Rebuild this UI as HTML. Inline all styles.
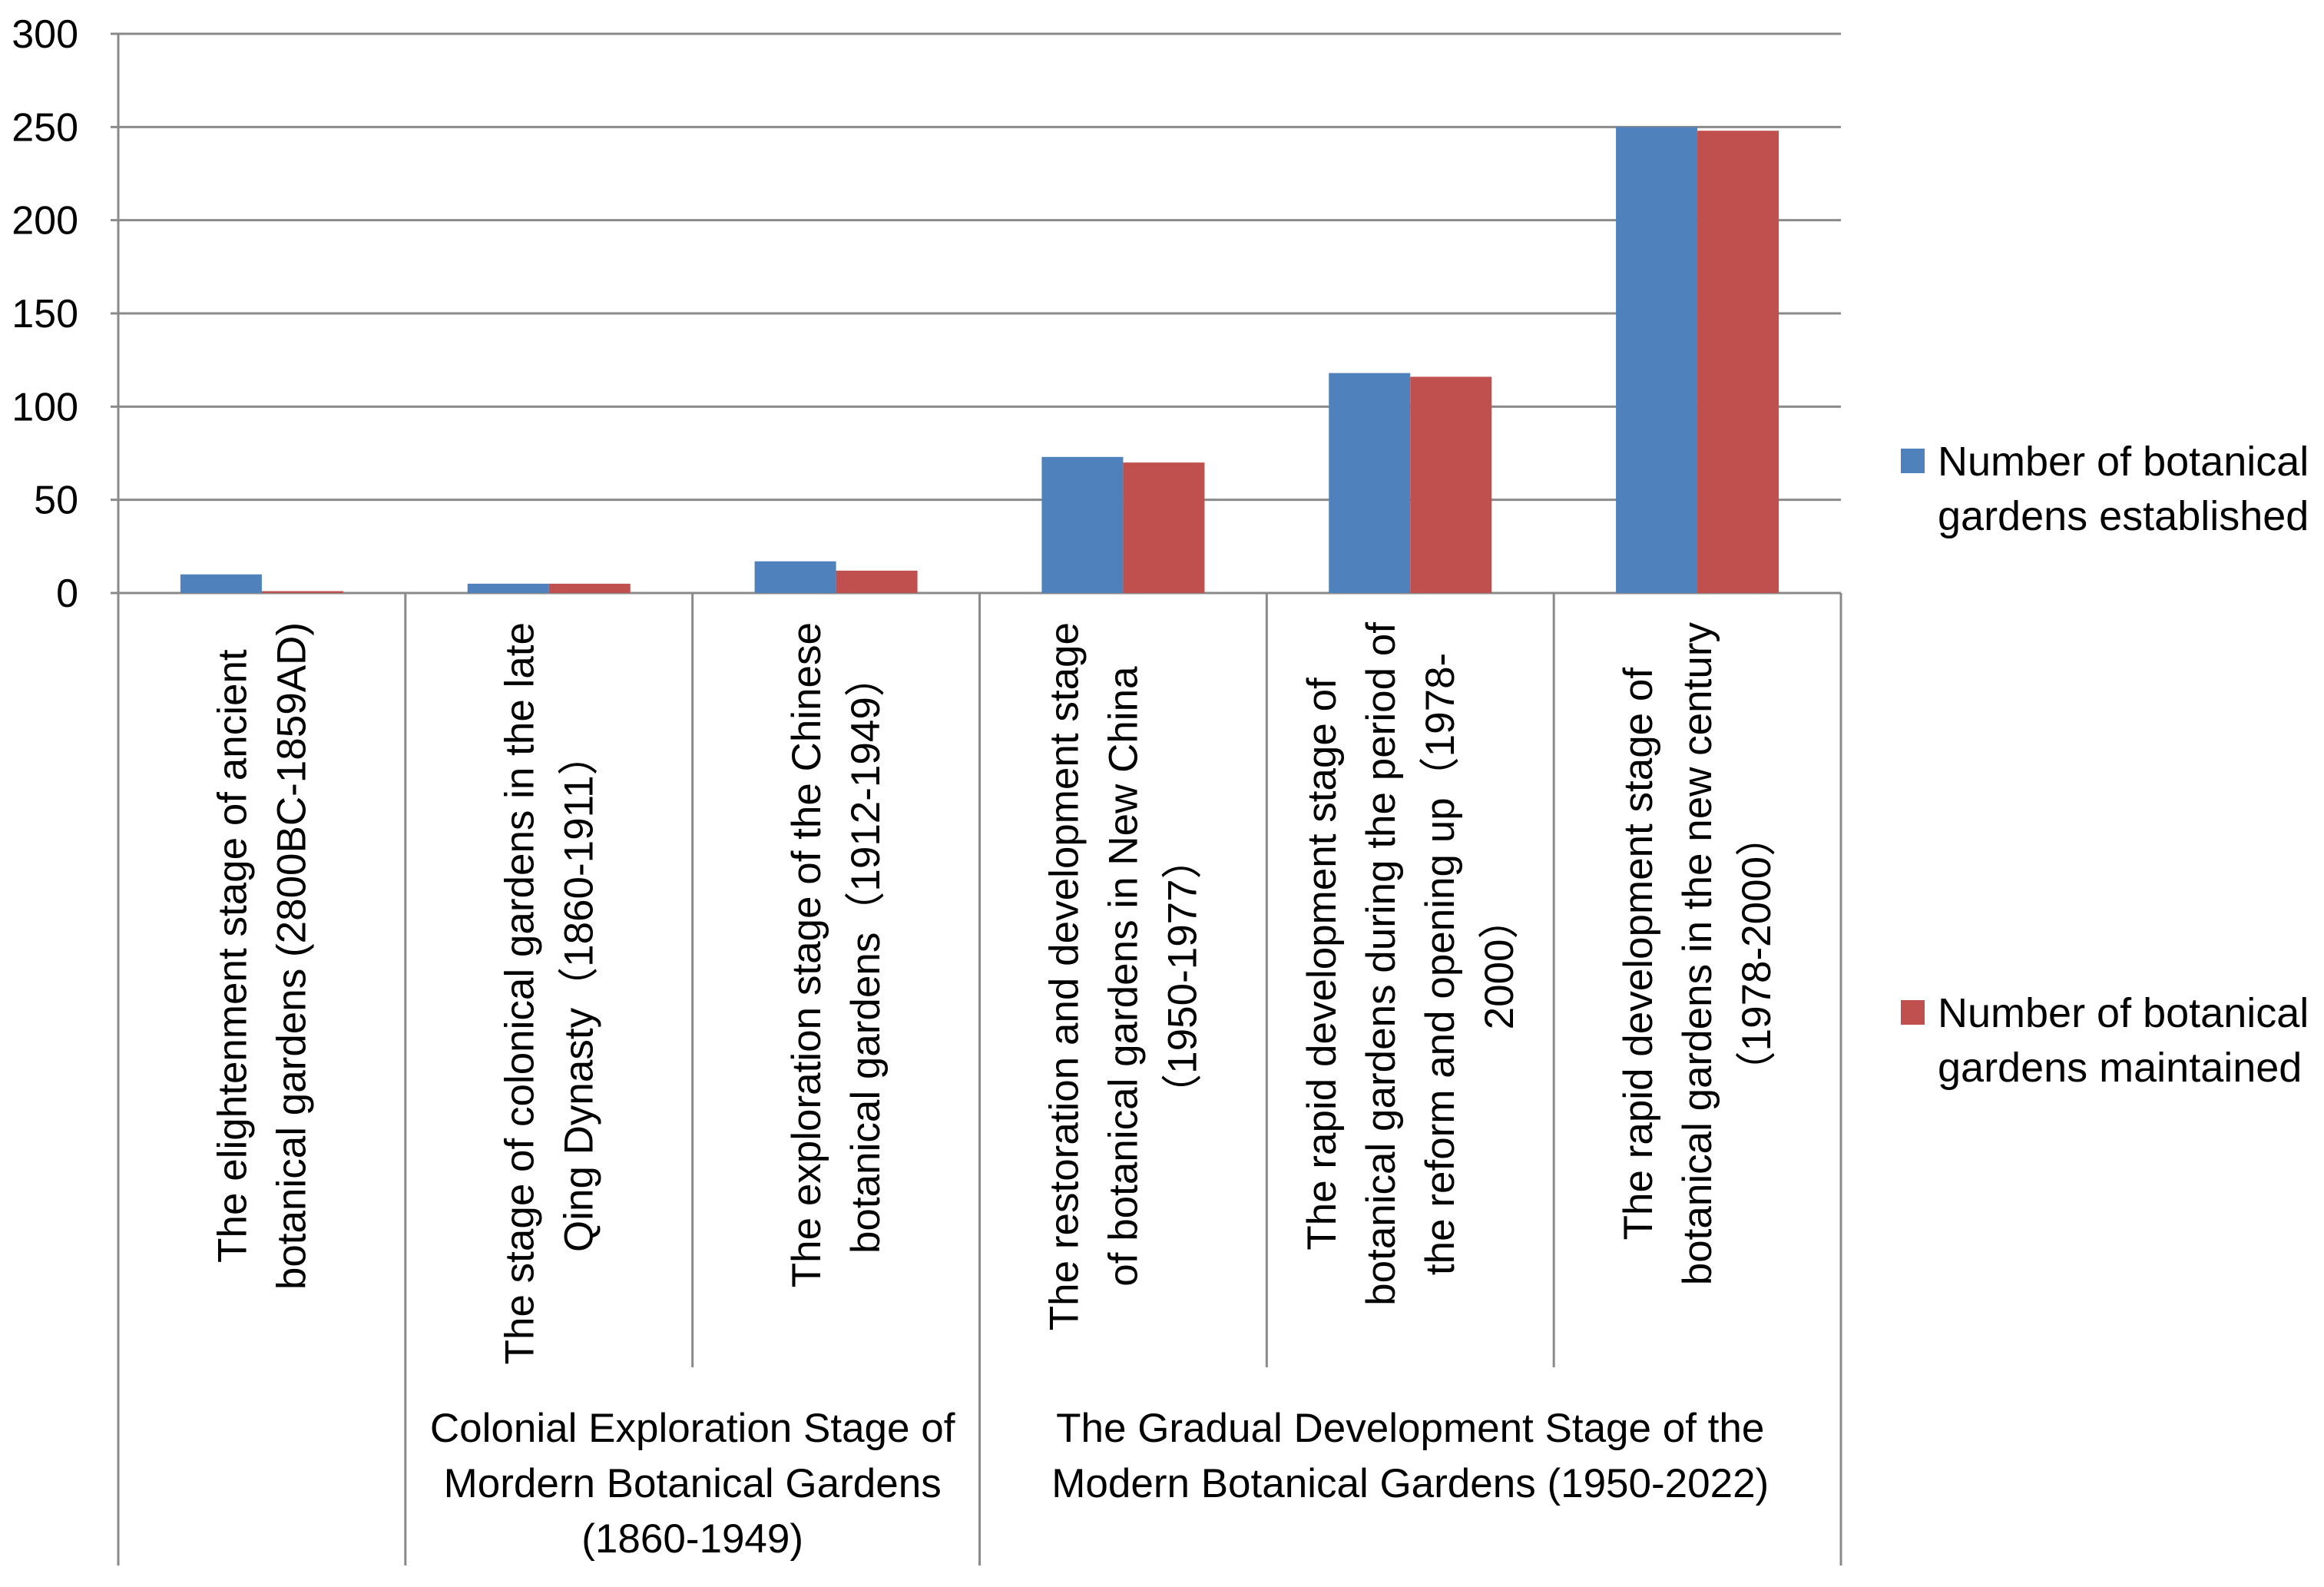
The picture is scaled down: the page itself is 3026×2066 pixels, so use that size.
<!DOCTYPE html>
<html><head><meta charset="utf-8"><style>
html,body{margin:0;padding:0;background:#fff;}
svg{display:block;}
text{font-family:"Liberation Sans",sans-serif;fill:#000;}
</style></head><body>
<svg id="chart" width="3026" height="2066" viewBox="0 0 3026 2066">
<g id="grid"></g>
<g id="bars"></g>
<g id="axes"></g>
<g id="ylabels"></g>
<g id="xlabels"></g>
<g id="legend"></g>
</svg>
<script>
const categoryLines = [
  ["The elightenment stage of ancient","botanical gardens (2800BC-1859AD)"],
  ["The stage of colonical gardens in the late","Qing Dynasty（1860-1911）"],
  ["The exploration stage of the Chinese","botanical gardens（1912-1949）"],
  ["The restoration and development stage","of botanical gardens in New China","（1950-1977）"],
  ["The rapid development stage of","botanical gardens during the period of","the reform and opening up（1978-","2000）"],
  ["The rapid development stage of","botanical gardens in the new century","（1978-2000）"]
];
const established = [10, 5, 17, 73, 118, 250];
const maintained = [1, 5, 12, 70, 116, 248];
const yTicks = [0, 50, 100, 150, 200, 250, 300];
const groupNames = [
  ["Colonial Exploration Stage of","Mordern Botanical Gardens","(1860-1949)"],
  ["The Gradual Development Stage of the","Modern Botanical Gardens (1950-2022)"]
];
const groupSpans = [[1,3],[3,6]];
const seriesNames = [["Number of botanical","gardens established"],["Number of botanical","gardens maintained"]];

const NS = "http://www.w3.org/2000/svg";
const L = 154, R = 2397, Y0 = 772, Y300 = 44, BOT = 2038;
const n = established.length;
const cw = (R - L) / n;
const yScale = v => Y0 - (v / 300) * (Y0 - Y300);
const xCat = i => L + i * cw;
function mk(tag, attrs, parent){const e=document.createElementNS(NS,tag);for(const k in attrs)e.setAttribute(k,attrs[k]);parent.appendChild(e);return e;}
const grid=document.getElementById('grid'), bars=document.getElementById('bars'), axes=document.getElementById('axes');
const yl=document.getElementById('ylabels'), xl=document.getElementById('xlabels'), lg=document.getElementById('legend');

yTicks.forEach(t=>{
  const y=yScale(t);
  const ln=mk('line',{x1:L-10,x2:R,y1:y,y2:y,stroke:'#8a8a8a','stroke-width':3},grid);
  
  
  const tx=mk('text',{x:102,y:y+18,'text-anchor':'end','font-size':52},yl);
  tx.textContent=t;
  
  
});

const bw = 106;
for(let i=0;i<n;i++){
  const c = xCat(i)+cw/2;
  const b1=mk('rect',{x:c-bw,y:yScale(established[i]),width:bw,height:Y0-yScale(established[i]),fill:'#4f81bd'},bars);
  
  
  const b2=mk('rect',{x:c,y:yScale(maintained[i]),width:bw,height:Y0-yScale(maintained[i]),fill:'#c0504d'},bars);
  
  
}

const full=[0,1,3,6];
for(let i=0;i<=n;i++){
  const x=xCat(i);
  const bottom = full.includes(i)?BOT:1780;
  const top = i===0?Y300:Y0;
  const d=mk('line',{x1:x,x2:x,y1:top,y2:bottom,stroke:'#8a8a8a','stroke-width':3},axes);
  
  
}

const fs=53, lh=77;
categoryLines.forEach((lines,i)=>{
  const c = xCat(i)+cw/2;
  const g=mk('g',{transform:`translate(${c},810) rotate(-90)`},xl);
  
  
  const k=lines.length;
  lines.forEach((s,j)=>{
    const t=mk('text',{x:0,y:(j-(k-1)/2)*lh+18,'text-anchor':'middle','font-size':fs},g);
    t.textContent=s;
  });
});
Array.from(xl.children).forEach(g=>{
  let maxw=0;Array.from(g.children).forEach(t=>{maxw=Math.max(maxw,t.getComputedTextLength());});
  Array.from(g.children).forEach(t=>{t.setAttribute('x',-maxw/2);});
});

groupNames.forEach((lines,gi)=>{
  const [a,b]=groupSpans[gi];
  const cx=(xCat(a)+xCat(b))/2;
  const g=mk('g',{},xl);
  
  
  lines.forEach((s,j)=>{
    const t=mk('text',{x:cx,y:1877+j*72,'text-anchor':'middle','font-size':53},g);
    t.textContent=s;
  });
});

const colors=['#4f81bd','#c0504d'];
const legY=[600,1318];
seriesNames.forEach((lines,si)=>{
  const g=mk('g',{},lg);
  
  
  mk('rect',{x:2475,y:legY[si]-16,width:31,height:32,fill:colors[si]},g);
  lines.forEach((s,j)=>{
    const t=mk('text',{x:2523,y:legY[si]+19+j*71,'font-size':54},g);
    t.textContent=s;
  });
});
</script>
</body></html>
